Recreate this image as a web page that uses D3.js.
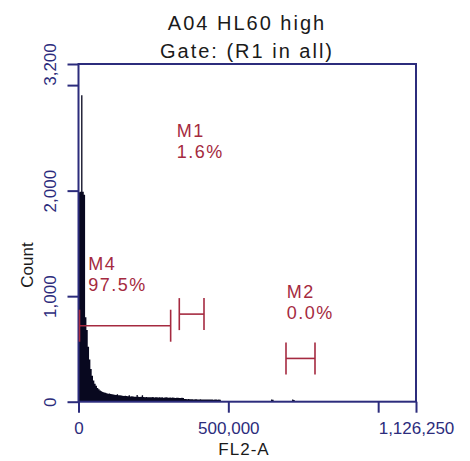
<!DOCTYPE html>
<html>
<head>
<meta charset="utf-8">
<script src="https://cdn.jsdelivr.net/npm/d3@7"></script>
<style>
  html, body { margin: 0; padding: 0; background: #ffffff; }
  svg { display: block; font-family: "Liberation Sans", Arial, sans-serif; }
</style>
</head>
<body>
<svg id="chart" width="470" height="461"></svg>
<script>
// FL2-A histogram, 256 channels spanning the full axis range
const xMax = 1126250;
const yMax = 3200;
const channels = 256;

// counts for the first channels (0..107)
const headCounts = [
  1985, 1990, 2905, 1990, 1960,
  800, 680, 520, 400, 310, 245, 200, 170,
  150, 130, 118, 105, 98, 92, 86, 84, 80, 76, 78, 72, 70,
  68, 66, 64, 70, 62,
  60, 58, 56, 55, 57, 53, 52, 60, 50, 51, 49, 48, 47, 63, 46, 45,
  46, 62, 44, 43, 45, 42, 43, 41, 42, 44, 40, 41, 42, 39, 43, 40, 41, 38, 40, 42, 39, 38, 40, 37, 39, 38, 36, 38, 37, 35, 36, 37, 34,
  26, 25, 24, 25, 23, 24, 23, 22, 24, 23, 22, 21, 23, 22, 21, 22, 20, 21, 22, 20, 21, 20, 19, 20, 21, 19, 20, 18
];
// sparse events further out: [channel, count]
const tailEvents = [[146, 20], [147, 18], [162, 20], [163, 16]];

// axis ticks
const xTicks = [0, 500000, 1000000, 1126250];
const xTickLabels = ["0", "500,000", "", "1,126,250"];
const yTicks = [0, 1000, 2000, 3000, 3200];
const yTickLabels = ["0", "1,000", "2,000", "", "3,200"];

// markers: name, percent, range, label position (data units)
const markerNames = ["M4", "M1", "M2"];
const markerPercents = ["97.5%", "1.6%", "0.0%"];
const markerRanges = [[0, 307500], [333000, 418800], [689100, 789200]];
const markerLevels = [720, 830, 410];           // y level of the bar, counts
const markerLabelAt = [[32700, 1250], [327700, 2510], [694800, 985]];

const titleLines = ["A04 HL60 high", "Gate: (R1 in all)"];
const xTitle = "FL2-A";
const yTitle = "Count";

const navy = "#2c2c7c";
const markerColor = "#a52a40";
const histColor = "#08081f";

const svg = d3.select("#chart");
const plot = { left: 78.5, right: 416, top: 64, bottom: 401.7 };

const x = d3.scaleLinear().domain([0, xMax]).range([plot.left, plot.right]);
const y = d3.scaleLinear().domain([0, yMax]).range([plot.bottom, plot.top]);

// build channel table
const binW = xMax / channels;
const counts = new Array(channels).fill(0);
headCounts.forEach((c, i) => counts[i] = c);
tailEvents.forEach(([ch, c]) => counts[ch] = c);
const bins = counts.map((c, i) => ({ x0: i * binW, x1: (i + 1) * binW, c }));

// histogram as a stepped area
const area = d3.area()
  .x(d => x(d.x))
  .y0(y(0))
  .y1(d => y(d.c))
  .curve(d3.curveStepAfter);
const stepPts = [];
bins.forEach(b => stepPts.push({ x: b.x0, c: b.c }));
stepPts.push({ x: xMax, c: 0 });
svg.append("path")
  .attr("d", area(stepPts))
  .attr("fill", histColor)
  .attr("stroke", "none");

// frame
svg.append("rect")
  .attr("x", plot.left).attr("y", plot.top)
  .attr("width", plot.right - plot.left)
  .attr("height", plot.bottom - plot.top)
  .attr("fill", "none")
  .attr("stroke", navy)
  .attr("stroke-width", 2);

// x axis
const xAxis = d3.axisBottom(x)
  .tickValues(xTicks)
  .tickSize(11)
  .tickPadding(9)
  .tickFormat((d, i) => xTickLabels[i]);
const gx = svg.append("g")
  .attr("transform", `translate(0,${plot.bottom})`)
  .call(xAxis);
gx.select(".domain").remove();
gx.selectAll(".tick line").attr("stroke", navy).attr("stroke-width", 2);
gx.selectAll(".tick text")
  .attr("fill", navy)
  .attr("font-size", 17)
  .attr("font-family", "Liberation Sans, Arial, sans-serif");

// y axis
const yAxis = d3.axisLeft(y)
  .tickValues(yTicks)
  .tickSize(11)
  .tickPadding(0)
  .tickFormat((d, i) => yTickLabels[i]);
const gy = svg.append("g")
  .attr("transform", `translate(${plot.left},0)`)
  .call(yAxis);
gy.select(".domain").remove();
gy.selectAll(".tick line").attr("stroke", navy).attr("stroke-width", 2);
gy.selectAll(".tick text")
  .attr("fill", navy)
  .attr("font-size", 17)
  .attr("font-family", "Liberation Sans, Arial, sans-serif")
  .attr("x", null).attr("dy", null)
  .attr("text-anchor", "middle")
  .attr("transform", "translate(-23,0) rotate(-90)");

// titles
svg.append("text")
  .attr("x", 247).attr("y", 30)
  .attr("text-anchor", "middle")
  .attr("font-size", 20).attr("letter-spacing", 2)
  .attr("fill", "#1a1a1a")
  .text(titleLines[0]);
svg.append("text")
  .attr("x", 247).attr("y", 58)
  .attr("text-anchor", "middle")
  .attr("font-size", 20).attr("letter-spacing", 2)
  .attr("fill", "#1a1a1a")
  .text(titleLines[1]);

svg.append("text")
  .attr("x", 244).attr("y", 455)
  .attr("text-anchor", "middle")
  .attr("font-size", 17).attr("letter-spacing", 1)
  .attr("fill", "#1a1a1a")
  .text(xTitle);

svg.append("text")
  .attr("transform", "translate(33,265) rotate(-90)")
  .attr("text-anchor", "middle")
  .attr("font-size", 17)
  .attr("fill", "#1a1a1a")
  .text(yTitle);

// gating markers
const capHalf = 16;
markerNames.forEach((name, i) => {
  const [a, b] = markerRanges[i];
  const yy = y(markerLevels[i]);
  const g = svg.append("g").attr("stroke", markerColor).attr("stroke-width", 1.6);
  g.append("line").attr("x1", x(a) + 1).attr("x2", x(b)).attr("y1", yy).attr("y2", yy);
  g.append("line").attr("x1", x(a) + 1).attr("x2", x(a) + 1).attr("y1", yy - capHalf).attr("y2", yy + capHalf);
  g.append("line").attr("x1", x(b)).attr("x2", x(b)).attr("y1", yy - capHalf).attr("y2", yy + capHalf);

  const [lx, ly] = markerLabelAt[i];
  const t = svg.append("text")
    .attr("x", x(lx)).attr("y", y(ly))
    .attr("font-size", 18).attr("letter-spacing", 1.5)
    .attr("fill", markerColor);
  t.append("tspan").attr("x", x(lx)).text(name);
  t.append("tspan").attr("x", x(lx)).attr("dy", 21).text(markerPercents[i]);
});
</script>
</body>
</html>
